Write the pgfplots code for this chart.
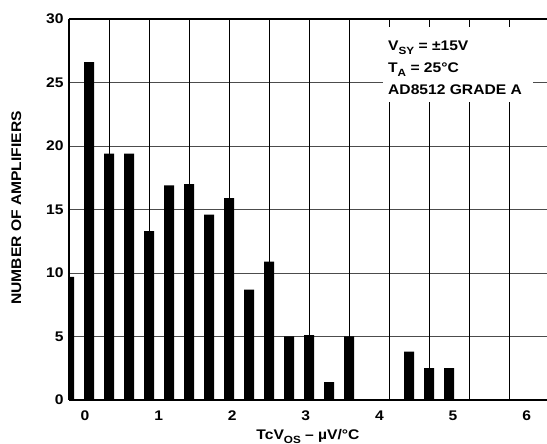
\documentclass[border=0pt]{standalone}
\usepackage{fontspec}
\setmainfont{Liberation Sans}[FakeStretch=1.12]
\usepackage{pgfplots}
\usepackage{pgfplotstable}
\pgfplotsset{compat=1.18}

% histogram bins (bin index) and number of amplifiers in each bin
\pgfplotstableread{
bin count
0  9.7
1  26.6
2  19.4
3  19.4
4  13.3
5  16.9
6  17.0
7  14.6
8  15.9
9  8.7
10 10.9
11 5.0
12 5.1
13 1.4
14 5.0
15 0
16 0
17 3.8
18 2.5
19 2.5
}\histdata

\newcommand{\chartfont}{\fontsize{14}{17}\selectfont\bfseries}
\newcommand{\sub}[1]{\raisebox{-0.28em}{\fontsize{10.5}{12}\selectfont\bfseries #1}}

\begin{document}
\begin{tikzpicture}[font=\chartfont]
\useasboundingbox (0,0) rectangle (547bp,444bp);
\begin{axis}[
  at={(69bp,44bp)}, anchor=south west,
  scale only axis, width=478bp, height=381bp,
  xmin=0, xmax=23.9, ymin=0, ymax=30,
  axis x line*=bottom, axis y line*=left,
  axis line style={line width=1.8bp, -},
  ybar, bar width=10bp,
  xtick={0.8,4.48,8.16,11.84,15.52,19.2,22.88},
  xticklabels={0,1,2,3,4,5,6},
  extra x ticks={2,4,...,22},
  extra x tick labels={},
  extra x tick style={xmajorgrids=true, major grid style={black, line width=0.8bp}},
  ytick={0,5,...,30},
  ymajorgrids=true,
  major grid style={black!70, line width=0.9bp},
  major tick length=0pt,
  tick style={draw=none},
  /pgf/number format/assume math mode=true,
  tick label style={font=\chartfont},
  xticklabel style={yshift=-7bp},
  yticklabel style={xshift=-2bp},
  label style={font=\chartfont},
  xlabel={TcV\sub{OS} – µV/°C},
  xlabel style={at={(axis description cs:0.5,-0.103)}, anchor=base},
  ylabel={NUMBER OF AMPLIFIERS},
  ylabel style={at={(axis description cs:-0.1004,0.504)}, anchor=base},
]
\addplot[fill=black, draw=none] table[x=bin, y=count] {\histdata};

% test conditions on a white patch
\fill[white] (axis cs:15.7,23.46) rectangle (axis cs:23.2,29.37);
\node[anchor=base west, inner sep=0pt, font=\chartfont] at (axis cs:15.95,27.5) {V\sub{SY} = ±15V};
\node[anchor=base west, inner sep=0pt, font=\chartfont] at (axis cs:15.95,25.8) {T\sub{A} = 25°C};
\node[anchor=base west, inner sep=0pt, font=\chartfont] at (axis cs:15.95,24.09) {AD8512 GRADE A};
\end{axis}
\draw[line width=1.8bp] (current axis.north west) -- (current axis.north east);
\end{tikzpicture}
\end{document}
